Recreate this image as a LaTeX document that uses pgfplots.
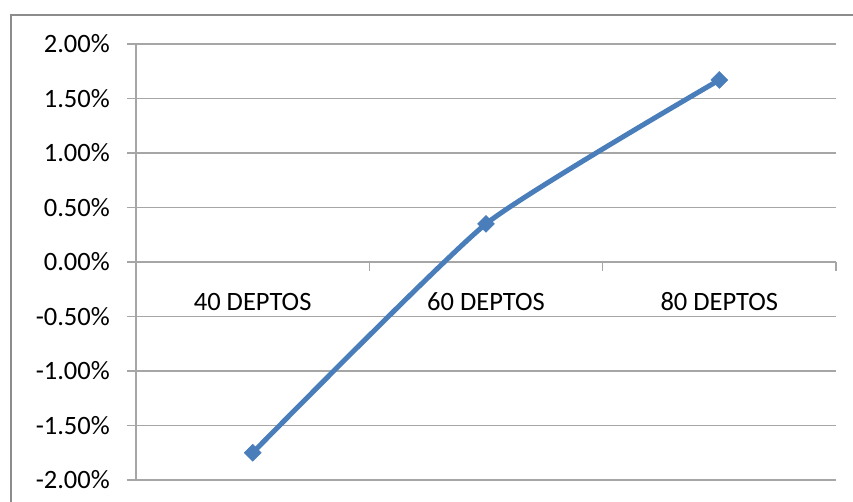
\documentclass[border=0pt]{standalone}
\usepackage{pgfplots}
\pgfplotsset{compat=1.18}
\usepackage{fontspec}
\setmainfont{Carlito}
\definecolor{ser}{HTML}{4A7EBB}
\definecolor{grd}{HTML}{A6A6A6}
\definecolor{brd}{HTML}{8C8C8C}
\begin{document}
\begin{tikzpicture}[x=1pt,y=1pt]
\useasboundingbox (-136,-21) rectangle (717,480);
\clip (-136,-21) rectangle (717,480);
\draw[brd, line width=2.2pt] (-125,-60) -- (-125,465) -- (760,465);
\begin{axis}[
  at={(0,0)}, anchor=south west,
  scale only axis, width=700pt, height=436pt,
  xmin=0.5, xmax=3.5, ymin=-2, ymax=2,
  axis x line*=middle, axis y line*=left,
  axis line style={grd, line width=1.5pt},
  ytick={-2,-1.5,-1,-0.5,0,0.5,1,1.5,2},
  yticklabels={-2.00\%,-1.50\%,-1.00\%,-0.50\%,0.00\%,0.50\%,1.00\%,1.50\%,2.00\%},
  ymajorgrids, grid style={grd, line width=1.5pt},
  tick align=outside, major tick length=9pt,
  tick style={grd, line width=1.5pt},
  xtick={0.5,1.5,2.5,3.5}, xticklabels={},
  extra x ticks={1,2,3},
  extra x tick labels={40 DEPTOS,60 DEPTOS,80 DEPTOS},
  extra x tick style={major tick length=0pt, xmajorgrids=false,
    xticklabel style={anchor=center, yshift=-40pt}},
  ticklabel style={font=\fontsize{26.5}{31}\selectfont, text=black},
  yticklabel style={anchor=east, inner sep=0pt, xshift=-17pt},
]
\addplot[ser, line width=5pt, smooth, tension=0.3, mark=square*, mark size=6pt,
  mark options={solid, rotate=45, line width=0.5pt, fill=ser, draw=ser}]
  coordinates {(1,-1.75) (2,0.35) (3,1.67)};
\end{axis}
\end{tikzpicture}
\end{document}
